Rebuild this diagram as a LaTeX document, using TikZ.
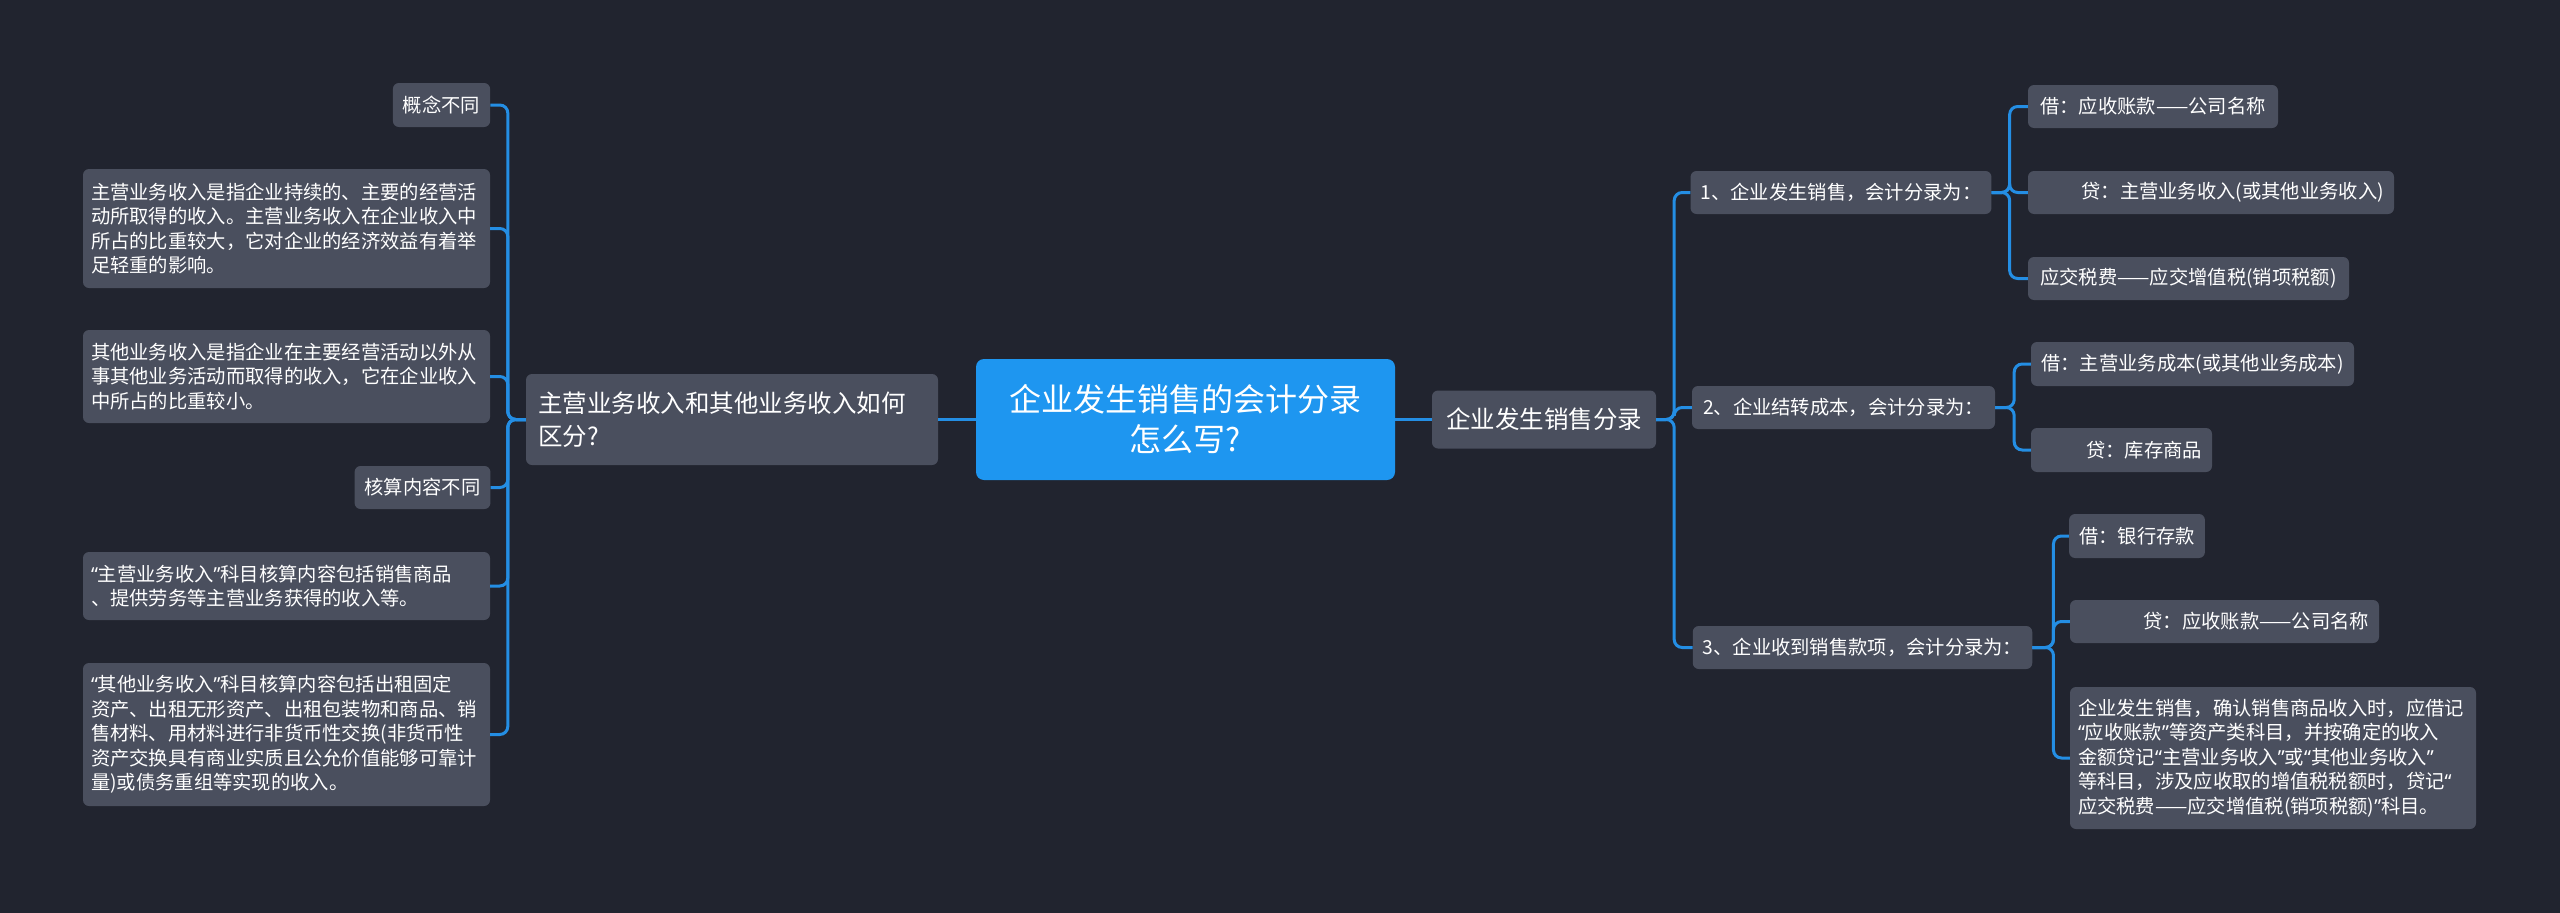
\documentclass[tikz,border=0pt]{standalone}
\usepackage{fontspec}
\setmainfont{Noto Sans CJK SC}
\newfontfamily\latinq{Noto Sans}
\newcommand\myoq{{\latinq “}}
\newcommand\mycq{{\latinq ”}}
\definecolor{bg}{RGB}{33,36,47}
\definecolor{nodegray}{RGB}{74,79,94}
\definecolor{rootblue}{RGB}{30,150,240}
\definecolor{linkblue}{RGB}{36,142,228}
\tikzset{
  box/.style={fill=nodegray, rounded corners=6pt, text=white, inner xsep=10pt, inner ysep=0pt,
    font=\fontsize{19.3}{24.5}\selectfont},
  para/.style={box, inner xsep=8pt, align=left},
  midbox/.style={box, inner xsep=12pt, font=\fontsize{24.5}{33}\selectfont},
  rootbox/.style={fill=rootblue, rounded corners=8pt, text=white, inner sep=0pt, align=center,
    font=\fontsize{32}{40}\selectfont},
  conn/.style={draw=linkblue, line width=3pt, rounded corners=8pt},
}
\begin{document}
\begin{tikzpicture}[x=1pt,y=-1pt]
\fill[bg] (0,0) rectangle (2560,913);
\useasboundingbox (0,0) rectangle (2560,913);

% root
\node[rootbox, minimum width=419pt, minimum height=121pt] (root) at (1185.5,419.5) {企业发生销售的会计分录\\怎么写?};

% left branch
\node[midbox, text width=388pt, align=left, minimum height=91pt] (P1) at (732,419.5) {主营业务收入和其他业务收入如何\\区分?};
\node[box, minimum width=97pt, minimum height=44pt] (L1) at (441.5,105) {概念不同};
\node[para, text width=391pt, minimum height=119pt] (L2) at (286.5,228.5) {主营业务收入是指企业持续的、主要的经营活\\动所取得的收入。主营业务收入在企业收入中\\所占的比重较大，它对企业的经济效益有着举\\足轻重的影响。};
\node[para, text width=391pt, minimum height=93pt] (L3) at (286.5,376.5) {其他业务收入是指企业在主要经营活动以外从\\事其他业务活动而取得的收入，它在企业收入\\中所占的比重较小。};
\node[box, minimum width=135pt, minimum height=43pt] (L4) at (422.5,487.5) {核算内容不同};
\node[para, text width=391pt, minimum height=68pt] (L5) at (286.5,586) {\myoq 主营业务收入\mycq 科目核算内容包括销售商品\\、提供劳务等主营业务获得的收入等。};
\node[para, text width=391pt, minimum height=143pt] (L6) at (286.5,734.5) {\myoq 其他业务收入\mycq 科目核算内容包括出租固定\\资产、出租无形资产、出租包装物和商品、销\\售材料、用材料进行非货币性交换(非货币性\\资产交换具有商业实质且公允价值能够可靠计\\量)或债务重组等实现的收入。};

% right branch
\node[midbox, minimum width=224pt, minimum height=58pt] (P2) at (1544,419.5) {企业发生销售分录};
\node[box, minimum width=298pt, minimum height=43pt] (R1) at (1841,192.5) {1、企业发生销售，会计分录为：};
\node[box, minimum width=250pt, minimum height=43pt] (R1a) at (2153,106.5) {借：应收账款——公司名称};
\node[box, text width=346pt, align=right, minimum height=43pt] (R1b) at (2211,192.5) {贷：主营业务收入(或其他业务收入)};
\node[box, minimum width=321pt, minimum height=43pt] (R1c) at (2188.5,278.5) {应交税费——应交增值税(销项税额)};
\node[box, minimum width=303pt, minimum height=43pt] (R2) at (1843.5,407.5) {2、企业结转成本，会计分录为：};
\node[box, minimum width=323pt, minimum height=44pt] (R2a) at (2192.5,364) {借：主营业务成本(或其他业务成本)};
\node[box, text width=161pt, align=right, minimum height=44pt] (R2b) at (2121.5,450) {贷：库存商品};
\node[box, minimum width=339pt, minimum height=43pt] (R3) at (1862.5,647.5) {3、企业收到销售款项，会计分录为：};
\node[box, minimum width=134pt, minimum height=44pt] (R3a) at (2137,536) {借：银行存款};
\node[box, text width=289pt, align=right, minimum height=43pt] (R3b) at (2224.5,621.5) {贷：应收账款——公司名称};
\node[para, text width=390pt, minimum height=142pt] (R3c) at (2273,758) {企业发生销售，确认销售商品收入时，应借记\\\myoq 应收账款\mycq 等资产类科目，并按确定的收入\\金额贷记\myoq 主营业务收入\mycq 或\myoq 其他业务收入\mycq\\等科目，涉及应收取的增值税税额时，贷记\myoq\\应交税费——应交增值税(销项税额)\mycq 科目。};

% connectors
\draw[conn] (root.west) -- (P1.east);
\draw[conn] (root.east) -- (P2.west);
\foreach \n in {L1,L2,L3,L4,L5,L6}{
  \draw[conn] (P1.west) -- ++(-18,0) |- (\n.east);
}
\foreach \n in {R1,R2,R3}{
  \draw[conn] (P2.east) -- ++(18,0) |- (\n.west);
}
\foreach \n in {R1a,R1b,R1c}{
  \draw[conn] (R1.east) -- ++(18,0) |- (\n.west);
}
\foreach \n in {R2a,R2b}{
  \draw[conn] (R2.east) -- ++(19,0) |- (\n.west);
}
\foreach \n in {R3a,R3b,R3c}{
  \draw[conn] (R3.east) -- ++(21,0) |- (\n.west);
}
\end{tikzpicture}
\end{document}
